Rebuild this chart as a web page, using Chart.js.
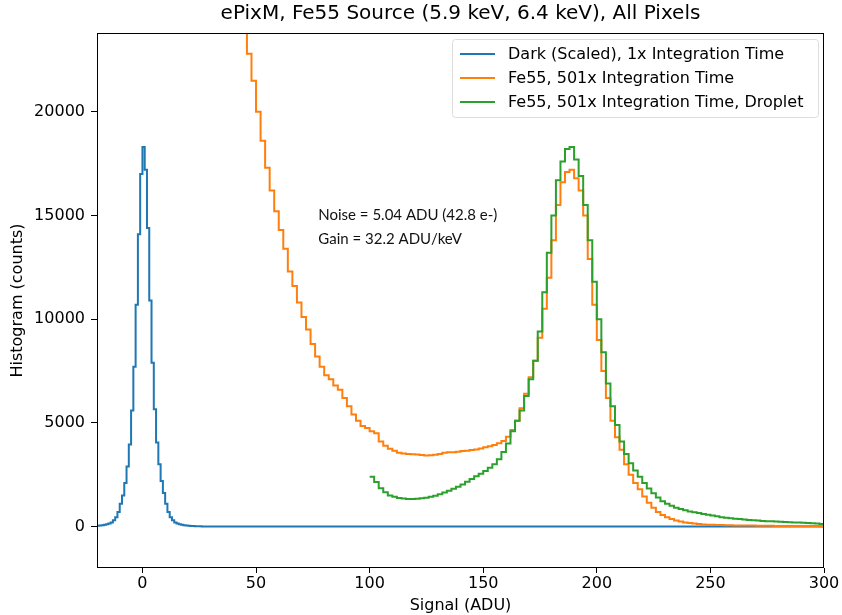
<!DOCTYPE html>
<html>
<head>
<meta charset="utf-8">
<script src="https://cdn.jsdelivr.net/npm/chart.js@4.4.0/dist/chart.umd.min.js"></script>
<style>
  html, body { margin: 0; padding: 0; background: #fff; }
</style>
</head>
<body>
<canvas id="histChart" width="842" height="615"></canvas>
<script>
// histogram counts, one value per bin
const darkStart = -20, darkBin = 1, darkEnd = 300; // counts are zero from 40 up to 300
const darkCounts = [
  40, 50, 60, 80, 110, 150, 200, 300, 450, 700,
  1100, 1500, 2100, 2900, 3950, 5600, 7700, 10700, 14100, 17000,
  18300, 17200, 14400, 10900, 7900, 5650, 4050, 3000, 2200, 1620,
  1100, 700, 450, 300, 200, 150, 110, 80, 60, 45,
  35, 25, 20, 15, 10, 8, 5, 4, 3, 2,
  1, 1, 0, 0, 0, 0, 0, 0, 0, 0
];

const fe55Start = 44, fe55Bin = 2;
const fe55Counts = [
  24500, 22800, 21500, 20000, 18600, 17300, 16200, 15200, 14300, 13400,
  12300, 11600, 10800, 10100, 9500, 8800, 8200, 7700, 7300, 7100,
  6800, 6600, 6200, 5800, 5400, 5100, 4850, 4750, 4600, 4500,
  4100, 3900, 3750, 3650, 3560, 3520, 3500, 3480, 3470, 3450,
  3420, 3440, 3460, 3500, 3560, 3580, 3580, 3610, 3640, 3660,
  3690, 3720, 3760, 3820, 3870, 3930, 4020, 4120, 4330, 4650,
  5100, 5700, 6400, 7200, 8000, 9100, 10500, 12000, 13800, 15500,
  16600, 17100, 17200, 16800, 16200, 15000, 12900, 10700, 9000, 7500,
  6200, 5100, 4300, 3700, 3000, 2500, 2100, 1800, 1450, 1150,
  900, 700, 560, 450, 360, 290, 240, 200, 170, 140,
  120, 100, 90, 80, 75, 70, 65, 60, 55, 50,
  50, 45, 45, 40, 40, 35, 35, 30, 30, 30,
  25, 25, 25, 20, 20, 20, 20, 15
];

const dropletStart = 100, dropletBin = 2;
const dropletCounts = [
  2400, 2150, 1850, 1650, 1500, 1430, 1380, 1350, 1330, 1330,
  1340, 1360, 1390, 1430, 1490, 1560, 1640, 1730, 1820, 1920,
  2030, 2160, 2290, 2420, 2550, 2680, 2830, 3000, 3250, 3600,
  4000, 4600, 5100, 5600, 6300, 7100, 8000, 9400, 11300, 13200,
  15000, 16700, 17600, 18200, 18300, 17700, 16900, 15500, 13800, 11800,
  10000, 8400, 6900, 5800, 4900, 4100, 3500, 3050, 2700, 2400,
  2100, 1830, 1600, 1400, 1220, 1100, 1000, 910, 840, 780,
  730, 690, 650, 610, 570, 530, 490, 450, 420, 400,
  380, 360, 340, 320, 300, 285, 270, 260, 250, 240,
  230, 220, 210, 200, 190, 180, 170, 160, 150, 120
];

const seriesLabels = [
  'Dark (Scaled), 1x Integration Time',
  'Fe55, 501x Integration Time',
  'Fe55, 501x Integration Time, Droplet'
];
const seriesColors = ['#1f77b4', '#ff7f0e', '#2ca02c'];

const xTicks = [0, 50, 100, 150, 200, 250, 300];
const yTicks = [0, 5000, 10000, 15000, 20000];

const noteLines = ['Noise = 5.04 ADU (42.8 e-)', 'Gain = 32.2 ADU/keV'];

// bin left edges + closing edge, for a stepped line
function toSteps(start, width, counts, end) {
  const pts = counts.map((c, i) => ({ x: start + i * width, y: c }));
  const last = end !== undefined ? end : start + counts.length * width;
  pts.push({ x: last, y: counts[counts.length - 1] });
  return pts;
}

const FONT = "'DejaVu Sans', sans-serif";

const frameAndNotes = {
  id: 'frameAndNotes',
  afterDatasetsDraw(chart) {
    const { ctx, chartArea: a, scales } = chart;
    ctx.save();

    // axes frame
    ctx.strokeStyle = '#000';
    ctx.lineWidth = 1;
    ctx.strokeRect(a.left + 0.5, a.top + 0.5, a.right - a.left - 1, a.bottom - a.top - 1);

    // text annotation
    ctx.fillStyle = '#111';
    ctx.font = "15px Lato, sans-serif";
    ctx.textBaseline = 'middle';
    ctx.textAlign = 'left';
    const nx = scales.x.getPixelForValue(77.4);
    const ny = scales.y.getPixelForValue(15000);
    noteLines.forEach((t, i) => ctx.fillText(t, nx, ny + i * 24));

    // legend box, top right
    const bx = 452, by = 39, bw = 366, bh = 78;
    ctx.fillStyle = 'rgba(255,255,255,0.8)';
    ctx.strokeStyle = '#dddddd';
    ctx.beginPath();
    ctx.roundRect(bx + 0.5, by + 0.5, bw, bh, 3);
    ctx.fill();
    ctx.stroke();

    ctx.font = '16px ' + FONT;
    ctx.lineWidth = 2;
    seriesLabels.forEach((lab, i) => {
      const y = 54 + i * 24;
      ctx.strokeStyle = seriesColors[i];
      ctx.beginPath();
      ctx.moveTo(460, y);
      ctx.lineTo(495, y);
      ctx.stroke();
      ctx.fillStyle = '#000';
      ctx.fillText(lab, 508, y + 1);
    });
    ctx.restore();
  }
};

const ctx = document.getElementById('histChart').getContext('2d');
new Chart(ctx, {
  type: 'line',
  data: {
    datasets: [
      {
        label: seriesLabels[0],
        data: toSteps(darkStart, darkBin, darkCounts, darkEnd),
        borderColor: seriesColors[0],
        order: 2
      },
      {
        label: seriesLabels[1],
        data: toSteps(fe55Start, fe55Bin, fe55Counts),
        borderColor: seriesColors[1],
        order: 1
      },
      {
        label: seriesLabels[2],
        data: toSteps(dropletStart, dropletBin, dropletCounts),
        borderColor: seriesColors[2],
        order: 0
      }
    ]
  },
  options: {
    responsive: false,
    animation: false,
    datasets: {
      line: {
        stepped: true,
        borderWidth: 2,
        pointRadius: 0,
        fill: false,
        clip: 0
      }
    },
    layout: { padding: { left: 0, right: 18, top: 0, bottom: 0 } },
    plugins: {
      legend: { display: false },
      tooltip: { enabled: false },
      title: {
        display: true,
        fullSize: false,
        text: 'ePixM, Fe55 Source (5.9 keV, 6.4 keV), All Pixels',
        color: '#000',
        font: { family: FONT, size: 20, weight: 'normal' },
        padding: { top: 2, bottom: 7 }
      }
    },
    scales: {
      x: {
        type: 'linear',
        min: -20,
        max: 300,
        afterBuildTicks: s => { s.ticks = xTicks.map(v => ({ value: v })); },
        afterFit: s => { s.height = 47; },
        ticks: { color: '#000', font: { family: FONT, size: 16 }, padding: 1, maxRotation: 0,
                 callback: v => String(v) },
        grid: { drawOnChartArea: false, drawTicks: true, tickLength: 5, color: '#000' },
        border: { display: false },
        title: {
          display: true,
          text: 'Signal (ADU)',
          color: '#000',
          font: { family: FONT, size: 16 },
          padding: { top: 2, bottom: 0 }
        }
      },
      y: {
        type: 'linear',
        min: -2000,
        max: 23800,
        afterBuildTicks: s => { s.ticks = yTicks.map(v => ({ value: v })); },
        afterFit: s => { s.width = 97; },
        ticks: { color: '#000', font: { family: FONT, size: 16 }, padding: 6,
                 callback: v => String(v) },
        grid: { drawOnChartArea: false, drawTicks: true, tickLength: 6, color: '#000' },
        border: { display: false },
        title: {
          display: true,
          text: 'Histogram (counts)',
          color: '#000',
          font: { family: FONT, size: 16 },
          padding: { top: 8, bottom: 0 }
        }
      }
    }
  },
  plugins: [frameAndNotes]
});
</script>
</body>
</html>
